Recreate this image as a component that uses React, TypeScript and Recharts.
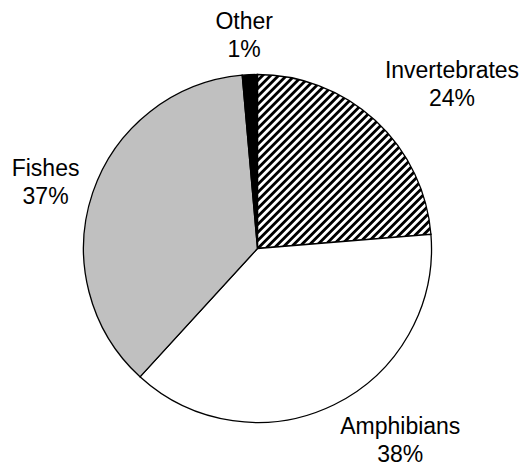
import React from "react";
import { PieChart, Pie, Cell } from "recharts";

// values (shares in %, clockwise from 12 o'clock)
const categories = ["Invertebrates", "Amphibians", "Fishes", "Other"];
const shares = [23.7, 38.1, 36.8, 1.4];
const fills = ["url(#hatch)", "#ffffff", "#c0c0c0", "#000000"];

const FONT = 23;
const LINE = 28;
const ASC = 17;
const DESC = 4;

// rough Arial advance widths (em) so the two-line label box can be placed like Excel does
const widths: Record<string, number> = {
    I: 0.278, A: 0.667, F: 0.611, O: 0.778, "%": 0.889,
    i: 0.222, l: 0.222, t: 0.278, r: 0.333, s: 0.5, v: 0.5,
    m: 0.833, " ": 0.278,
};
const textWidth = (s: string) =>
    s.split("").reduce((sum, ch) => sum + (widths[ch] ?? 0.556), 0) * FONT;

const clamp = (v: number, lo: number, hi: number) => Math.max(lo, Math.min(hi, v));

const renderLabel = (props: any) => {
    const { cx, cy, midAngle, outerRadius, percent } = props;
    const name = props.payload?.name ?? props.name;
    const rad = (-midAngle * Math.PI) / 180;
    const dx = Math.cos(rad);
    const dy = Math.sin(rad);
    const d = outerRadius + 14;
    const px = cx + d * dx;
    const py = cy + d * dy;
    const pct = Math.round(percent * 100) + "%";
    const w = Math.max(textWidth(name), textWidth(pct));
    const h = LINE + ASC + DESC;
    const fx = clamp(dx * 4, -1, 1);
    const fy = Math.sign(dy) * clamp((Math.abs(dy) - 0.25) / 0.4, 0, 1);
    const boxX = px + (fx * w) / 2;
    const boxY = py + (fy * h) / 2;
    const y1 = boxY - h / 2 + ASC;
    return (
        <text
            x={boxX}
            y={y1}
            textAnchor="middle"
            fill="#000"
            fontSize={FONT}
            fontFamily="'Liberation Sans', Arial, sans-serif"
        >
            <tspan x={boxX} y={y1}>{name}</tspan>
            <tspan x={boxX} y={y1 + LINE}>{pct}</tspan>
        </text>
    );
};

export default function App() {
    const data = categories.map((name, i) => ({ name, value: shares[i] }));

    return (
        <div style={{ position: "absolute", left: 0, top: 0, background: "#fff" }}>
            <PieChart width={525} height={468} margin={{ top: 0, right: 0, bottom: 0, left: 0 }}>
                <defs>
                    <pattern
                        id="hatch"
                        patternUnits="userSpaceOnUse"
                        width={5.66}
                        height={5.66}
                        patternTransform="rotate(45)"
                    >
                        <rect x={0} y={0} width={5.66} height={5.66} fill="#fff" />
                        <rect x={0} y={0} width={2.83} height={5.66} fill="#000" />
                    </pattern>
                </defs>
                <Pie
                    data={data}
                    dataKey="value"
                    nameKey="name"
                    cx={257.5}
                    cy={248.5}
                    outerRadius={174}
                    startAngle={90}
                    endAngle={-270}
                    stroke="#000"
                    strokeWidth={1.3}
                    labelLine={false}
                    label={renderLabel}
                    isAnimationActive={false}
                >
                    {data.map((d, i) => (
                        <Cell key={d.name} fill={fills[i]} />
                    ))}
                </Pie>
            </PieChart>
        </div>
    );
}
